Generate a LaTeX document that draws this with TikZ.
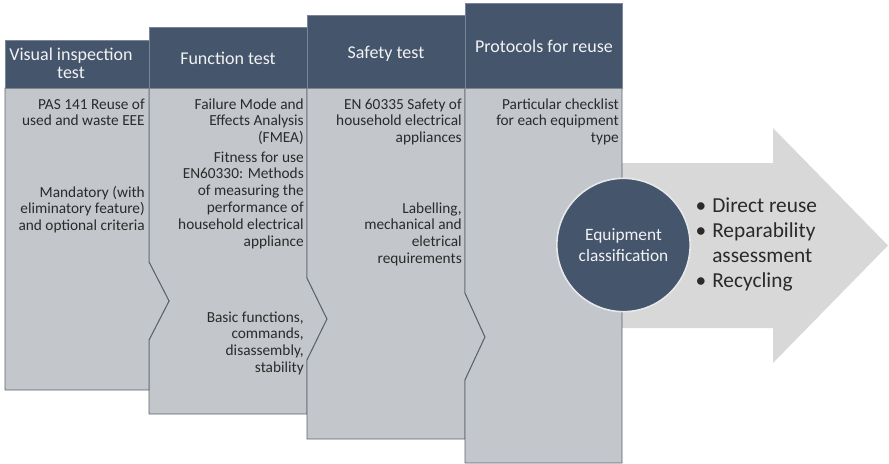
\documentclass[tikz,border=0pt]{standalone}
\usepackage{fontspec}
\setmainfont{Carlito}
\definecolor{headblue}{HTML}{45556B}
\definecolor{headedge}{HTML}{7A8596}
\definecolor{bodygrey}{HTML}{C3C6CB}
\definecolor{edgegrey}{HTML}{5B6370}
\definecolor{arrowgrey}{HTML}{D8D8D8}
\definecolor{ringgrey}{HTML}{E6E8EB}
\definecolor{textgrey}{HTML}{2A2A2A}
\definecolor{headtextcol}{HTML}{F2F3F5}
\begin{document}
\begin{tikzpicture}[x=0.75pt,y=-0.75pt,
  colbody/.style={fill=bodygrey, draw=edgegrey, line width=0.7pt, line join=miter},
  colhead/.style={fill=headblue, draw=headedge, line width=0.5pt},
  headtext/.style={text=headtextcol, font=\fontsize{13.5}{13.5}\selectfont, align=center, inner sep=0pt, anchor=base},
  bodytext/.style={text=textgrey, font=\fontsize{11.5}{12.6}\selectfont, align=right, inner sep=0pt, anchor=base east},
  bigarrow/.style={fill=arrowgrey, draw=none},
  hub/.style={circle, fill=headblue, draw=ringgrey, line width=1.2pt, minimum size=100pt, inner sep=0pt,
              text=headtextcol, align=center, font=\fontsize{13}{16}\selectfont},
  outcomes/.style={text=textgrey, font=\fontsize{16}{18.75}\selectfont, align=left, inner sep=0pt, anchor=base west}]
\useasboundingbox (0,0) rectangle (889,464);

% outcome arrow behind the last column
\path[bigarrow] (615,163) -- (773,163) -- (773,128) -- (888,245.5) -- (773,363) -- (773,328) -- (615,328) -- cycle;

% column bodies with chevron joints
\path[colbody] (149,88) -- (307,88) -- (307,278) -- (327,319) -- (307,360) -- (307,414) -- (149,414)
  -- (149,340) -- (169,301) -- (149,262) -- cycle;
\path[colbody] (307,88) -- (465,88) -- (465,293) -- (485,337) -- (465,380) -- (465,439) -- (307,439)
  -- (307,360) -- (327,319) -- (307,278) -- cycle;
\path[colbody] (465,88) -- (622,88) -- (622,463) -- (465,463) -- (465,380) -- (485,337) -- (465,293) -- cycle;
\path[colbody] (5,88) -- (149,88) -- (149,262) -- (169,301) -- (149,340) -- (149,390) -- (5,390) -- cycle;

% column headers
\path[colhead] (5,40) rectangle (149,88);
\path[colhead] (149,27) rectangle (307,88);
\path[colhead] (307,15) rectangle (465,88);
\path[colhead] (465,3) rectangle (622,88);

% multi-line nodes are anchored at the baseline of their last line
\node[headtext] (h1) at (71,78) {Visual inspection\\test};
\node[headtext] (h2) at (228,64) {Function test};
\node[headtext] (h3) at (386,58) {Safety test};
\node[headtext] (h4) at (544,52) {Protocols for reuse};

% column contents
\node[bodytext] (t1a) at (145,125.8) {PAS 141 Reuse of\\used and waste EEE};
\node[bodytext] (t1b) at (145,230.6) {Mandatory (with\\eliminatory feature)\\and optional criteria};
\node[bodytext] (t2a) at (304,142.6) {Failure Mode and\\Effects Analysis\\(FMEA)};
\node[bodytext] (t2b) at (304,246) {Fitness for use\\EN60330: Methods\\of measuring the\\performance of\\household electrical\\appliance};
\node[bodytext] (t2c) at (304,372.4) {Basic functions,\\commands,\\disassembly,\\stability};
\node[bodytext] (t3a) at (462,142.6) {EN 60335 Safety of\\household electrical\\appliances};
\node[bodytext] (t3b) at (462,263.4) {Labelling,\\mechanical and\\eletrical\\requirements};
\node[bodytext] (t4a) at (619,142.6) {Particular checklist\\for each equipment\\type};

% classification hub and its outcomes
\newcommand{\outbullet}{\makebox[9pt][l]{\kern-3.5pt\textbullet}}
\node[hub] (hub) at (623.5,245) {Equipment\\classification};
\node[outcomes] (out) at (700,287) {\outbullet Direct reuse\\
  \outbullet Reparability\\
  \hspace*{9pt}assessment\\
  \outbullet Recycling};
\end{tikzpicture}
\end{document}
